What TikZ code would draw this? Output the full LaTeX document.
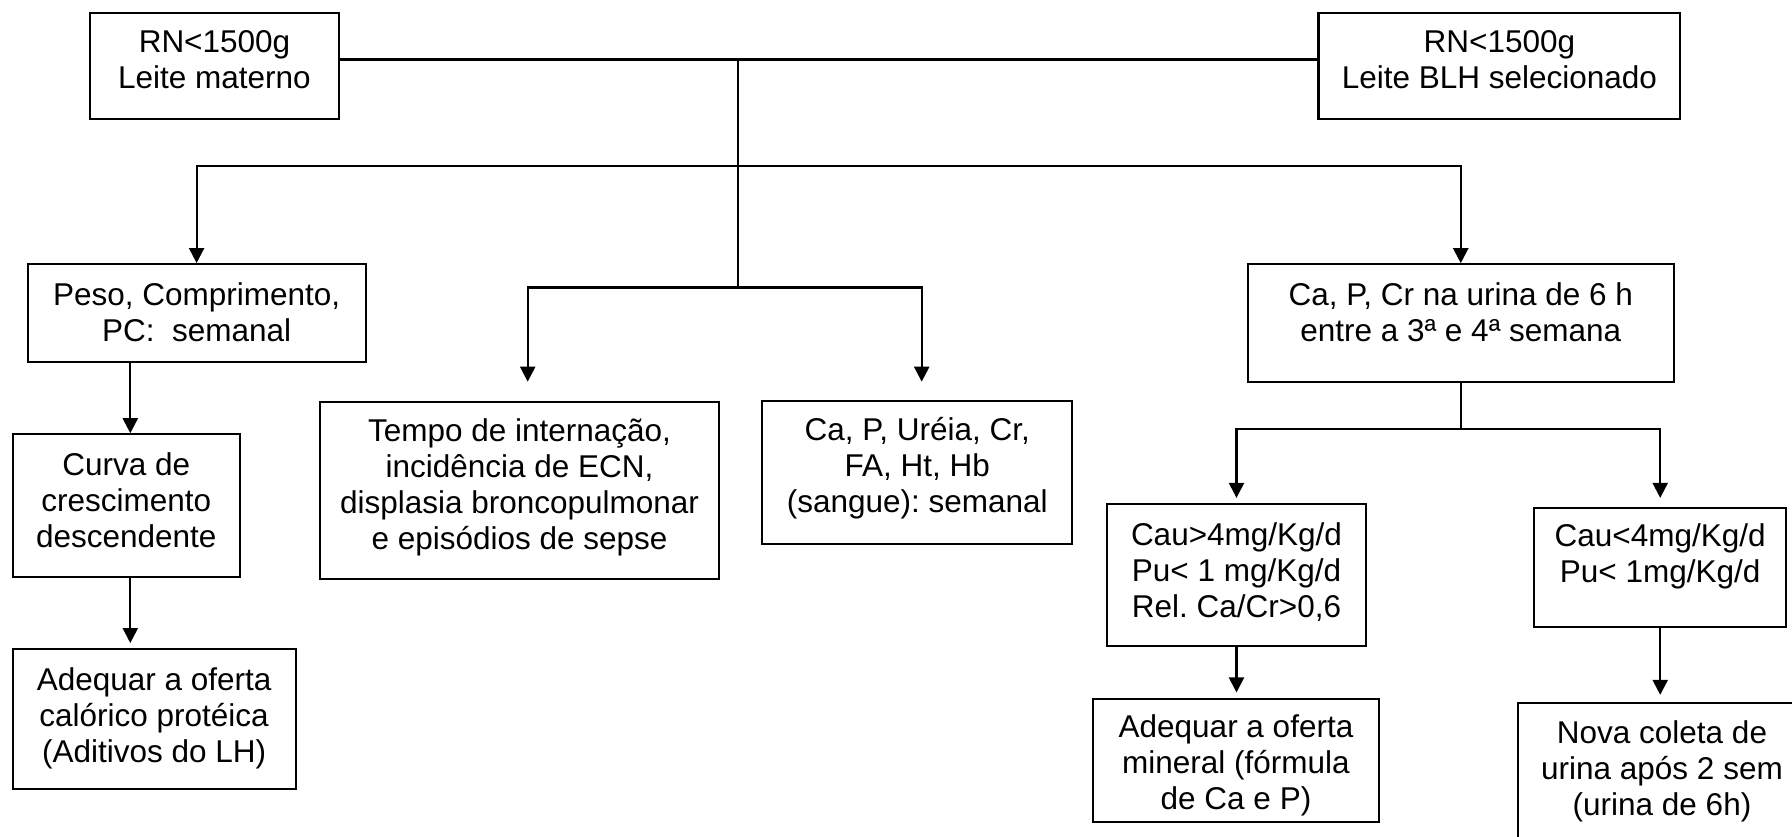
\documentclass[tikz,border=0pt]{standalone}
\usepackage{fontspec}
\setmainfont{Liberation Sans}
\usepackage{tikz}
\usetikzlibrary{arrows.meta}
\frenchspacing

\begin{document}
\begin{tikzpicture}[x=1pt,y=-1pt,line width=2.2pt,
  box/.style={draw,rectangle,inner sep=0pt},
  txt/.style={align=center,inner sep=0pt,font=\fontsize{31.5}{36}\selectfont},
  arr/.style={-{Triangle[length=15pt,width=15pt]}}]
\useasboundingbox (0,0) rectangle (1792,837);
\node[box,minimum width=249pt,minimum height=106.6pt] (rnmat) at (214.5,66) {};
\node[txt] (rnmat-t) at (214.5,59.5) {RN<1500g\\Leite materno};
\node[box,minimum width=361.8pt,minimum height=106.6pt] (rnblh) at (1499.4,66) {};
\node[txt] (rnblh-t) at (1499.4,59.5) {RN<1500g\\Leite BLH selecionado};
\node[box,minimum width=338pt,minimum height=97.7pt] (peso) at (196.6,313) {};
\node[txt] (peso-t) at (196.6,312.5) {Peso, Comprimento,\\PC:\ \ semanal};
\node[box,minimum width=227.4pt,minimum height=142.4pt] (curva) at (126.3,505.5) {};
\node[txt] (curva-t) at (126.3,500.5) {Curva de\\crescimento\\descendente};
\node[box,minimum width=283pt,minimum height=139.7pt] (calor) at (154.1,719) {};
\node[txt] (calor-t) at (154.1,718) {Adequar a oferta\\calórico protéica\\(Aditivos do LH)};
\node[box,minimum width=399.5pt,minimum height=177.6pt] (tempo) at (519.5,490.5) {};
\node[txt] (tempo-t) at (519.5,487) {Tempo de internação,\\incidência de ECN,\\displasia broncopulmonar\\e episódios de sepse};
\node[box,minimum width=310pt,minimum height=143pt] (sangue) at (917.3,472.7) {};
\node[txt] (sangue-t) at (917.3,468) {Ca, P, Uréia, Cr,\\FA, Ht, Hb\\(sangue): semanal};
\node[box,minimum width=426.3pt,minimum height=118pt] (urina) at (1460.75,323.3) {};
\node[txt] (urina-t) at (1460.75,312) {Ca, P, Cr na urina de 6 h\\entre a 3ª e 4ª semana};
\node[box,minimum width=259.4pt,minimum height=142pt] (caumaior) at (1236.5,575) {};
\node[txt] (caumaior-t) at (1236.5,572) {Cau>4mg/Kg/d\\Pu< 1 mg/Kg/d\\Rel. Ca/Cr>0,6};
\node[box,minimum width=251.7pt,minimum height=119pt] (caumenor) at (1660.2,567.2) {};
\node[txt] (caumenor-t) at (1660.2,556) {Cau<4mg/Kg/d\\Pu< 1mg/Kg/d};
\node[box,minimum width=286pt,minimum height=122.7pt] (mineral) at (1236,760.4) {};
\node[txt] (mineral-t) at (1236,765) {Adequar a oferta\\mineral (fórmula\\de Ca e P)};
\node[box,minimum width=288pt,minimum height=142.3pt] (nova) at (1662,773.8) {};
\node[txt] (nova-t) at (1662,771) {Nova coleta de\\urina após 2 sem\\(urina de 6h)};
\coordinate (hub) at (737.7,59.5);
\coordinate (upbus) at (737.7,165.7);
\coordinate (fork) at (737.7,287.5);
\coordinate (tempo-tip) at (527.7,381.7);
\coordinate (sangue-tip) at (921.7,381.7);
\coordinate (split) at (1460.75,429.3);
\draw (rnmat.east |- hub) -- (rnblh.west |- hub);
\draw (hub) -- (fork);
\draw[arr] (upbus) -| (peso.north);
\draw[arr] (upbus) -| (urina.north);
\draw[arr] (fork) -| (tempo-tip);
\draw[arr] (fork) -| (sangue-tip);
\draw[arr] ([xshift=4pt]curva.north |- peso.south) -- ([xshift=4pt]curva.north);
\draw[arr,shorten >=5pt] ([xshift=4pt]curva.south) -- ([xshift=4pt]curva.south |- calor.north);
\draw (urina.south) -- (split);
\draw[arr,shorten >=5pt] (split) -| (caumaior.north);
\draw[arr,shorten >=8.7pt] (split) -| (caumenor.north);
\draw[arr,shorten >=5.5pt] (caumaior.south) -- (caumaior.south |- mineral.north);
\draw[arr,shorten >=6.7pt] (caumenor.south) -- (caumenor.south |- nova.north);
\end{tikzpicture}
\end{document}
